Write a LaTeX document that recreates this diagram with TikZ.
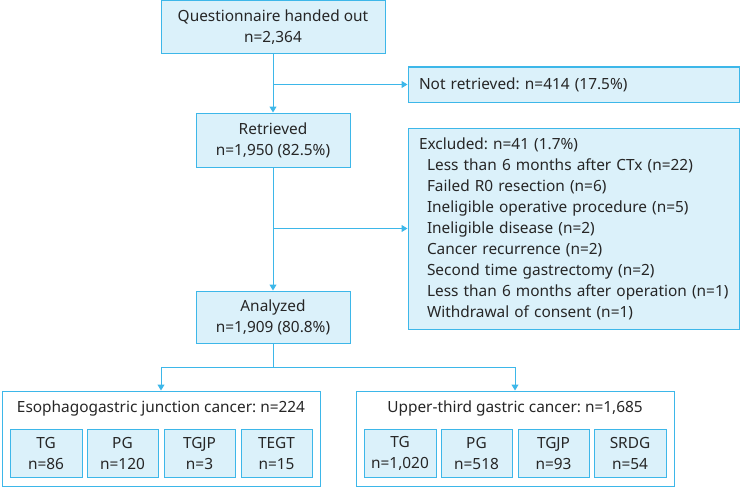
\documentclass[tikz,border=0pt]{standalone}
\usepackage{fontspec}
\setmainfont{Noto Sans}
\usetikzlibrary{arrows.meta}
\frenchspacing

\definecolor{bordcyan}{HTML}{3DB7E9}
\definecolor{fillcyan}{HTML}{DBF1FA}
\definecolor{txtgray}{HTML}{262626}

\tikzset{
  box/.style={draw=bordcyan, fill=fillcyan, line width=1pt, inner sep=0pt,
    text=txtgray, align=center, font=\fontsize{15.4}{21}\selectfont},
  leftbox/.style={box, align=left, inner xsep=3pt},
  outerbox/.style={draw=bordcyan, fill=white, line width=1pt, inner sep=0pt},
  arr/.style={draw=bordcyan, line width=1pt, -{Triangle[length=6pt,width=7pt]}},
  lin/.style={draw=bordcyan, line width=1pt}
}
\newcommand\firstind{\hspace*{8pt}}
\newcommand\subind{\hspace*{16pt}}

\begin{document}
\begin{tikzpicture}[x=1pt, y=-1pt]
\useasboundingbox (0,0) rectangle (741,487);

% Boites principales
\node[box, minimum width=224pt, minimum height=53pt] (quest) at (273,27.5)
  {Questionnaire handed out\\n=2,364};
\node[leftbox, text width=325pt, minimum height=35pt] (notret) at (573.5,84.5)
  {\firstind Not retrieved: n=414 (17.5\%)};
\node[box, minimum width=154pt, minimum height=54pt] (retr) at (273,140)
  {Retrieved\\n=1,950 (82.5\%)};
\node[leftbox, text width=325pt, minimum height=201pt] (excl) at (573.5,228.5)
  {\firstind Excluded: n=41 (1.7\%)\\
   \subind Less than 6 months after CTx (n=22)\\
   \subind Failed R0 resection (n=6)\\
   \subind Ineligible operative procedure (n=5)\\
   \subind Ineligible disease (n=2)\\
   \subind Cancer recurrence (n=2)\\
   \subind Second time gastrectomy (n=2)\\
   \subind Less than 6 months after operation (n=1)\\
   \subind Withdrawal of consent (n=1)};
\node[box, minimum width=154pt, minimum height=52pt] (anal) at (273,317)
  {Analyzed\\n=1,909 (80.8\%)};

% Groupes du bas
\node[outerbox, minimum width=318pt, minimum height=95pt] (ejc) at (161,438.5) {};
\node[text=txtgray, font=\fontsize{15.4}{21}\selectfont] (ejctitle) at (161,408)
  {Esophagogastric junction cancer: n=224};
\node[box, minimum width=72pt, minimum height=48pt] (ejctg) at (46,453) {TG\\n=86};
\node[box, minimum width=71pt, minimum height=48pt] (ejcpg) at (122.5,453) {PG\\n=120};
\node[box, minimum width=71pt, minimum height=48pt] (ejctgjp) at (199.5,453) {TGJP\\n=3};
\node[box, minimum width=71pt, minimum height=48pt] (ejctegt) at (276.5,453) {TEGT\\n=15};

\node[outerbox, minimum width=318pt, minimum height=95pt] (utg) at (515,438.5) {};
\node[text=txtgray, font=\fontsize{15.4}{21}\selectfont] (utgtitle) at (515,408)
  {Upper-third gastric cancer: n=1,685};
\node[box, minimum width=72pt, minimum height=48pt] (utgtg) at (400,453) {TG\\n=1,020};
\node[box, minimum width=71pt, minimum height=48pt] (utgpg) at (476.5,453) {PG\\n=518};
\node[box, minimum width=71pt, minimum height=48pt] (utgtgjp) at (553.5,453) {TGJP\\n=93};
\node[box, minimum width=72pt, minimum height=48pt] (utgsrdg) at (630,453) {SRDG\\n=54};

% Fleches
\draw[arr] (quest.south) -- (retr.north);
\draw[arr] (quest.south |- notret.west) -- (notret.west);
\draw[arr] (retr.south) -- (anal.north);
\draw[arr] (retr.south |- excl.west) -- (excl.west);
\coordinate (split) at (273,367);
\draw[lin] (anal.south) -- (split);
\draw[arr] (split) -| (ejc.north);
\draw[arr] (split) -| (utg.north);
\end{tikzpicture}
\end{document}
